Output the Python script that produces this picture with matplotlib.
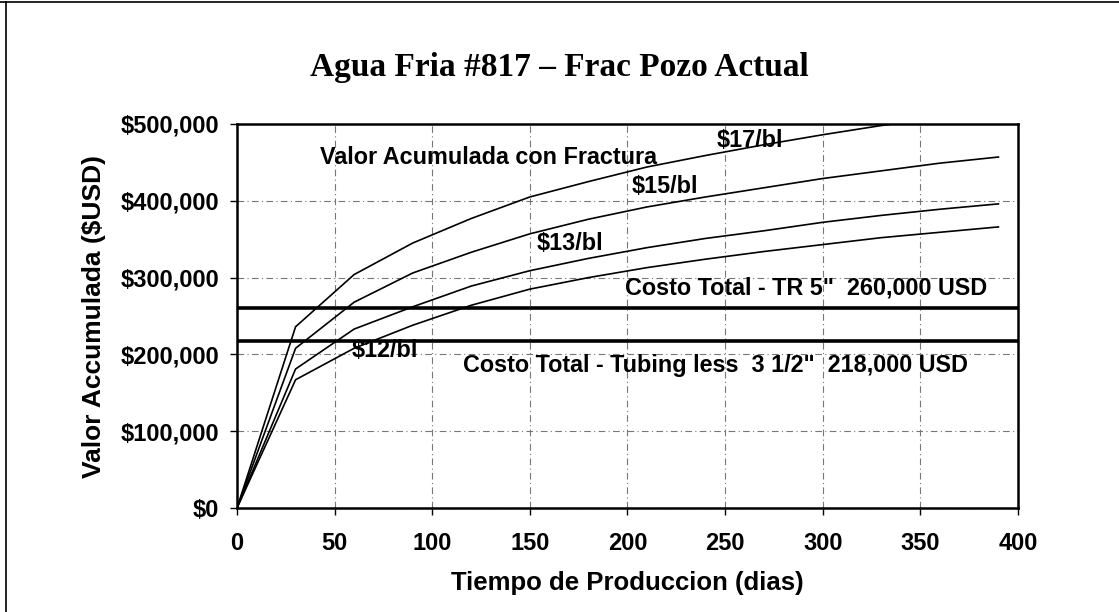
import matplotlib.pyplot as plt
from matplotlib.lines import Line2D
from matplotlib.ticker import FuncFormatter

# days on production (points every 30 days)
dias = [0, 30, 60, 90, 120, 150, 180, 210, 240, 270, 300, 330, 360, 390]

# cumulative value (USD) per oil price
valor_17 = [0, 236000, 304000, 345000, 377000, 405000, 425000, 444000, 459000, 473000, 486000, 498000, 508000, 518000]
valor_15 = [0, 208000, 268000, 306000, 333000, 357000, 376000, 392000, 405000, 417000, 429000, 439000, 449000, 457000]
valor_13 = [0, 181000, 233000, 262000, 289000, 309000, 325000, 339000, 351000, 361000, 372000, 381000, 389000, 396000]
valor_12 = [0, 167000, 208000, 238000, 264000, 285000, 300000, 313000, 324000, 334000, 343000, 352000, 359000, 366000]

costo_tr5 = 260000
costo_tubing = 218000

plt.rcParams['font.family'] = ['Liberation Sans', 'DejaVu Sans']
plt.rcParams['font.weight'] = 'bold'

fig = plt.figure(figsize=(11.19, 6.12), dpi=100)
ax = fig.add_axes([0.2118, 0.1699, 0.6979, 0.6275])

for v in (valor_17, valor_15, valor_13, valor_12):
    ax.plot(dias, v, color='black', linewidth=1.2)

ax.axhline(costo_tr5, color='black', linewidth=2.6)
ax.axhline(costo_tubing, color='black', linewidth=2.6)

ax.set_xlim(0, 400)
ax.set_ylim(0, 500000)
ax.set_xticks(range(0, 401, 50))
ax.set_yticks(range(0, 500001, 100000))
ax.yaxis.set_major_formatter(FuncFormatter(lambda y, p: '${:,.0f}'.format(y)))
ax.grid(True, color='#777777', linestyle=(0, (6, 3, 1, 3)), linewidth=0.8)
ax.set_axisbelow(True)

for s in ax.spines.values():
    s.set_linewidth(1.8)
ax.tick_params(axis='both', direction='out', length=5, width=1, labelsize=17, pad=8)
ax.tick_params(axis='x', pad=12)

ax.set_xlabel('Tiempo de Produccion (dias)', fontsize=18.5, fontweight='bold', labelpad=12)
ax.set_ylabel('Valor Accumulada ($USD)', fontsize=19, fontweight='bold', labelpad=10)

fig.text(0.5, 0.89, 'Agua Fria #817 \u2013 Frac Pozo Actual', ha='center', va='center',
         fontsize=24, fontweight='bold', family='Liberation Serif')

tk = dict(fontsize=16.8, fontweight='bold', va='center', ha='left')
ax.text(42.5, 457000, 'Valor Acumulada con Fractura', **tk)
ax.text(245.5, 479000, '$17/bl', **tk)
ax.text(202, 418000, '$15/bl', **tk)
ax.text(153.5, 344600, '$13/bl', **tk)
ax.text(58.7, 205700, '$12/bl', **tk)
ax.text(198.7, 286000, 'Costo Total - TR 5"  260,000 USD', **tk)
ax.text(115.9, 186000, 'Costo Total - Tubing less  3 1/2"  218,000 USD', **tk)

# scanned page border (left and top)
fig.add_artist(Line2D([0.005, 0.005], [0, 0.997], color='black', linewidth=1.2))
fig.add_artist(Line2D([0, 1], [0.997, 0.997], color='black', linewidth=1.2))

fig.savefig('out.png', dpi=100)
